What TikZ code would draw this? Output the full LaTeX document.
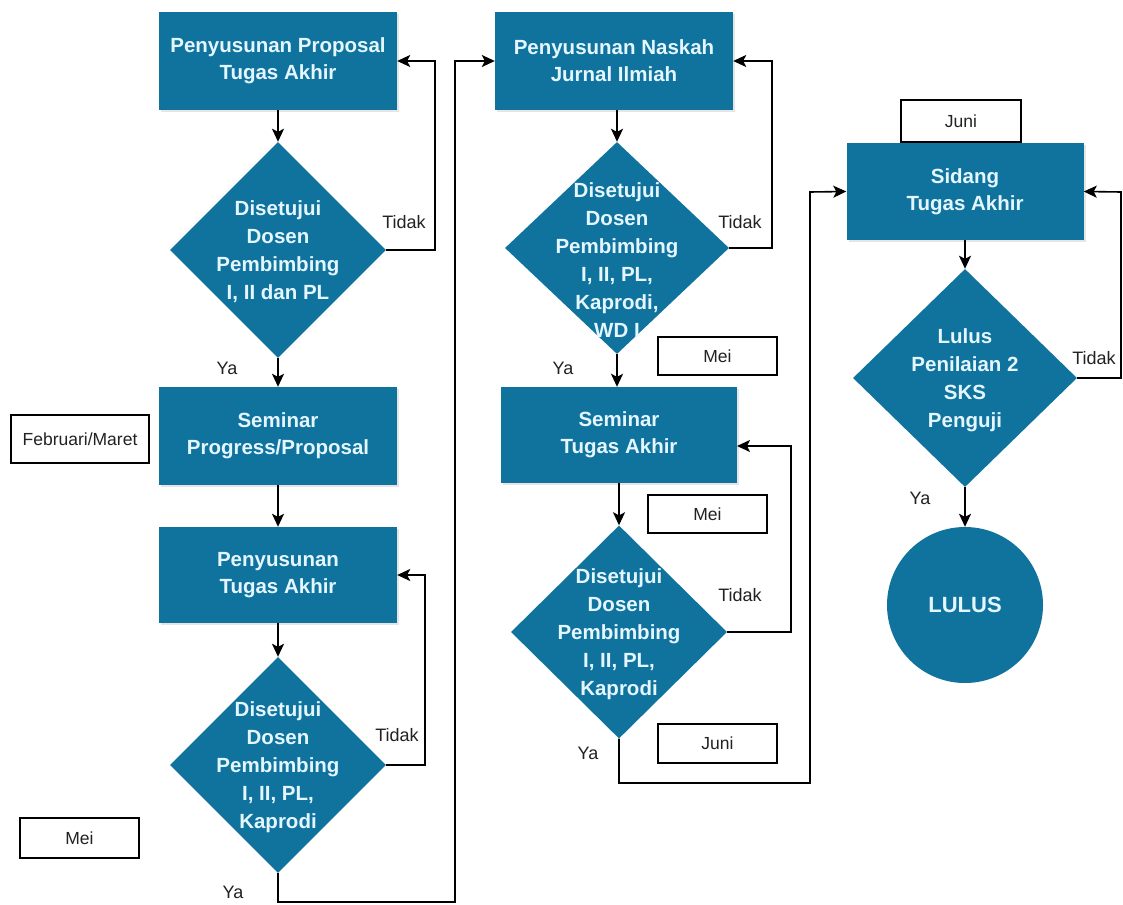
\documentclass[tikz,border=0pt]{standalone}
\usepackage{fontspec}
\setmainfont{Liberation Sans}
\usetikzlibrary{shapes.geometric,arrows.meta,shadows}
\definecolor{fc}{HTML}{10739E}
\definecolor{tc}{HTML}{E4F6FF}
\definecolor{lc}{HTML}{222222}
\begin{document}
\begin{tikzpicture}[x=1pt,y=-1pt,
  proc/.style={rectangle, fill=fc, draw=none, minimum width=238pt, minimum height=98pt, inner sep=0pt,
    text=tc, font=\fontsize{20.5}{27}\selectfont\bfseries, align=center,
    drop shadow={opacity=0.2, shadow xshift=2pt, shadow yshift=-2pt}},
  dia/.style={diamond, fill=fc, draw=none, inner sep=0pt, minimum width=216pt, minimum height=216pt},
  dtext/.style={text=tc, font=\fontsize{20.5}{28}\selectfont\bfseries, align=center, inner sep=0pt},
  tag/.style={rectangle, draw=black, line width=1.6pt, fill=white, inner sep=0pt,
    font=\fontsize{17.5}{21}\selectfont, text=lc},
  lab/.style={font=\fontsize{18}{21}\selectfont, text=lc, inner sep=0pt},
  ln/.style={line width=1.6pt, draw=black},
  arr/.style={ln, -{Stealth[length=13pt,width=12pt,inset=3pt]}}
]
\useasboundingbox (0,0) rectangle (1123,904);
\fill[white] (0,0) rectangle (1123,904);

% ---------- column 1 ----------
\node[proc] (b1) at (278,61) {Penyusunan Proposal\\Tugas Akhir};
\node[dia] (d1) at (278,250) {};
\node[dtext] (d1t) at (278,252) {Disetujui\\Dosen\\Pembimbing\\I, II dan PL};
\node[proc, minimum height=98pt] (b2) at (278,436) {Seminar\\Progress/Proposal};
\node[tag, minimum width=138pt, minimum height=48pt] (feb) at (80,439) {Februari/Maret};
\node[proc, minimum height=96pt] (b3) at (278,575) {Penyusunan\\Tugas Akhir};
\node[dia] (d3) at (278,765) {};
\node[dtext] (d3t) at (278,767) {Disetujui\\Dosen\\Pembimbing\\I, II, PL,\\Kaprodi};
\node[tag, minimum width=119pt, minimum height=40pt] (mei1) at (79.5,838) {Mei};

% ---------- column 2 ----------
\node[proc] (b4) at (614,61) {Penyusunan Naskah\\Jurnal Ilmiah};
\node[dia, minimum width=224pt, minimum height=212pt] (d4) at (617,248) {};
\node[dtext] (d4t) at (617,260) {Disetujui\\Dosen\\Pembimbing\\I, II, PL,\\Kaprodi,\\WD I};
\node[tag, minimum width=119pt, minimum height=38pt] (mei2) at (717.5,356) {Mei};
\node[proc, minimum width=236pt, minimum height=96pt] (b5) at (619,435) {Seminar\\Tugas Akhir};
\node[tag, minimum width=119pt, minimum height=38pt] (mei3) at (707.5,514) {Mei};
\node[dia, minimum height=213pt] (d6) at (619,632) {};
\node[dtext] (d6t) at (619,634) {Disetujui\\Dosen\\Pembimbing\\I, II, PL,\\Kaprodi};
\node[tag, minimum width=119pt, minimum height=39pt] (juni1) at (717.5,743.5) {Juni};

% ---------- column 3 ----------
\node[proc, minimum width=237pt, minimum height=97pt] (b6) at (965,191.5) {Sidang\\Tugas Akhir};
\node[tag, minimum width=120pt, minimum height=42pt] (juni2) at (961,121) {Juni};
\node[dia, minimum width=224pt, minimum height=218pt] (d7) at (965,378) {};
\node[dtext] (d7t) at (965,380) {Lulus\\Penilaian 2\\SKS\\Penguji};
\node[circle, fill=fc, draw=none, minimum size=156pt, inner sep=0pt, text=tc,
      font=\fontsize{22}{26}\selectfont\bfseries] (lulus) at (965,605) {LULUS};

% ---------- connectors ----------
\coordinate (c1a) at (435,250);
\coordinate (c1b) at (435,61);
\coordinate (c3a) at (425,765);
\coordinate (c3b) at (425,575);
\coordinate (c3c) at (278,902);
\coordinate (c3d) at (455,902);
\coordinate (c3e) at (455,61);
\coordinate (c4a) at (772,248);
\coordinate (c4b) at (772,61);
\coordinate (c6a) at (791,632);
\coordinate (c6b) at (791,446);
\coordinate (c6c) at (737,446);
\coordinate (c6d) at (619,783);
\coordinate (c6e) at (810,783);
\coordinate (c6f) at (810,192);
\coordinate (c7a) at (1121,378);
\coordinate (c7b) at (1121,192);

\draw[arr] (b1) -- (d1);
\draw[arr] (d1.east) -- (c1a) -- (c1b) -- (b1.east);
\draw[arr] (d1) -- (b2);
\draw[arr] (b2) -- (b3);
\draw[arr] (b3) -- (d3);
\draw[arr] (d3.east) -- (c3a) -- (c3b) -- (b3.east);
\draw[arr] (d3.south) -- (c3c) -- (c3d) -- (c3e) -- (b4.west);

\draw[arr] (b4.south -| d4.north) -- (d4.north);
\draw[arr] (d4.east) -- (c4a) -- (c4b) -- (b4.east);
\draw[arr] (d4.south) -- (d4.south |- b5.north);
\draw[arr] (b5) -- (d6);
\draw[arr] (d6.east) -- (c6a) -- (c6b) -- (c6c);
\draw[arr] (d6.south) -- (c6d) -- (c6e) -- (c6f) -- (b6.west);

\draw[arr] (b6) -- (d7);
\draw[arr] (d7.east) -- (c7a) -- (c7b) -- (b6.east);
\draw[arr] (d7) -- (lulus);

% ---------- labels ----------
\node[lab] (t1) at (404,222) {Tidak};
\node[lab] (y1) at (227,368) {Ya};
\node[lab] (t3) at (397,735) {Tidak};
\node[lab] (y3) at (233,892) {Ya};
\node[lab] (t4) at (740,222) {Tidak};
\node[lab] (y4) at (563,368) {Ya};
\node[lab] (t6) at (740,595) {Tidak};
\node[lab] (y6) at (588,753) {Ya};
\node[lab] (t7) at (1094,358) {Tidak};
\node[lab] (y7) at (920,498) {Ya};
\end{tikzpicture}
\end{document}
